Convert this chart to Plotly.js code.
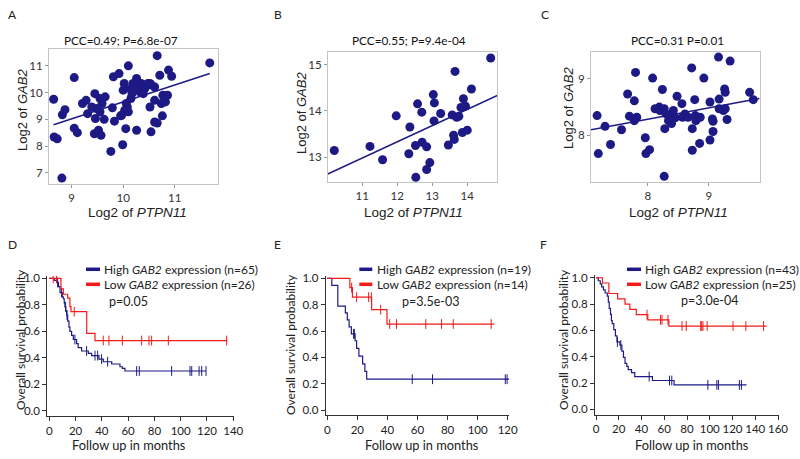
<!DOCTYPE html>
<html>
<head>
<meta charset="utf-8">
<script src="https://cdn.plot.ly/plotly-3.0.1.min.js"></script>
<style>
  body { margin: 0; background: #fff; }
  #plot { width: 800px; height: 459px; }
</style>
</head>
<body>
<div id="plot"></div>
<script>
// --- correlation panels: log2 PTPN11 (x) vs log2 GAB2 (y) ---
var aX = [8.65,8.66,8.72,8.81,8.82,8.87,9.05,9.05,9.11,9.21,9.28,9.31,9.45,9.46,9.44,9.52,9.55,9.57,9.55,9.63,
          9.65,9.39,9.48,9.59,9.76,9.79,9.83,9.81,9.92,9.95,9.99,10.05,10.1,10.02,10.03,10.06,10.08,10.1,10.15,10.17,
          10.23,10.26,10.19,10.29,10.32,10.35,10.42,10.48,10.55,10.26,10.52,10.54,10.61,10.66,10.66,10.71,10.61,10.74,10.77,10.82,
          10.76,10.88,10.94,10.86,11.68,10.0,10.15,10.39,10.03,9.97,10.52,10.61];
var aY = [9.75,8.34,8.27,6.8,9.17,9.36,10.56,8.67,8.5,9.59,9.71,9.21,9.96,9.03,8.46,8.59,9.28,8.4,9.78,9.0,
          9.84,9.46,9.4,9.59,7.8,9.43,8.93,10.59,10.71,9.13,8.05,8.65,11.0,10.34,10.15,9.59,9.46,9.28,9.78,9.96,
          10.15,10.53,10.34,10.21,10.03,10.34,10.15,10.34,10.28,8.59,9.46,8.53,8.9,8.86,11.38,10.65,9.71,9.59,9.9,9.65,
          9.13,10.84,10.61,9.9,11.11,10.09,10.15,9.96,9.34,9.15,10.34,10.21];
var aFitX = [8.65, 11.68];
var aFitY = [8.8, 10.71];

var bX = [10.2,11.22,11.58,11.97,12.36,12.33,12.52,12.53,12.58,12.7,12.71,12.84,12.84,12.93,13.03,13.06,
          13.05,13.24,13.46,13.57,13.61,13.63,13.65,13.7,13.82,13.86,13.89,13.95,14.0,14.12,14.67,13.76];
var bY = [13.14,13.23,12.94,13.89,13.65,13.07,13.25,12.56,14.15,13.97,13.32,13.22,12.73,12.88,14.35,14.17,
          13.78,13.94,13.26,13.91,13.47,13.38,14.85,13.86,14.07,13.53,14.26,14.1,13.58,14.47,15.14,13.88];
var bFitX = [10.01, 14.86];
var bFitY = [12.63, 14.33];

var cX = [7.17,7.19,7.3,7.39,7.57,7.67,7.7,7.78,7.8,7.82,7.78,7.96,7.97,8.03,8.08,8.19,8.24,8.2,8.27,8.28,
          8.27,8.3,8.34,8.42,8.48,8.45,8.56,8.57,8.61,8.72,8.73,8.73,8.77,8.78,8.79,8.85,8.86,8.92,9.02,9.02,
          9.06,9.07,9.07,9.16,9.17,9.17,9.26,9.27,9.27,9.3,9.35,9.67,9.73,8.12,8.37,8.66,9.24,8.39];
var cY = [8.35,7.68,8.16,7.84,8.1,8.73,8.34,8.61,9.11,8.32,8.26,7.96,7.68,7.75,9.01,8.5,8.81,8.44,8.47,8.12,
          7.28,8.38,8.26,8.44,8.69,8.31,8.56,8.32,8.38,9.19,8.12,7.74,8.63,8.35,8.26,7.86,8.32,9.01,8.59,7.92,
          8.29,8.07,8.25,9.38,8.64,8.47,8.82,8.76,8.47,8.28,9.31,8.76,8.63,8.47,8.35,8.32,8.44,8.21];
var cFitX = [7.07, 9.83];
var cFitY = [8.1, 8.65];

// --- Kaplan-Meier panels: step times (months), survival, last follow-up, censor times ---
var dHighT = [0,3.8,5.6,7,8.2,9.9,10.7,11.4,11.9,12.6,13.2,14,15,15.7,17,18.3,20.8,22,24.6,29.7,32.2,37.8,41.1,47.5,53.8,55.6,57.6];
var dHighS = [1,0.985,0.969,0.938,0.892,0.861,0.846,0.815,0.785,0.754,0.723,0.677,0.631,0.6,0.569,0.538,0.507,0.477,0.451,0.433,0.416,0.39,0.37,0.353,0.332,0.32,0.3];
var dHighEnd = 119.3;
var dHighCens = [6.3,9.4,12.4,13.5,19.5,28.4,34.8,36.8,39.8,44.4,66.5,68.5,93.1,107.1,108.4,114,116,119.3];
var dLowT = [0,8.9,10.7,14,15.7,16.5,28.5,34.8];
var dLowS = [1,0.92,0.88,0.85,0.786,0.748,0.584,0.53];
var dLowEnd = 135;
var dLowCens = [3,5.6,19,41.1,45.4,55.6,70.3,75.9,77.9,90.6,135];

var eHighT = [0,3,7,12,13.3,14.5,16,18.5,19.5,21,23.5,25,26.2];
var eHighS = [1,0.947,0.789,0.737,0.684,0.632,0.579,0.526,0.468,0.41,0.351,0.293,0.234];
var eHighEnd = 122;
var eHighCens = [17.5,18,56.5,70,118.4,119.6];
var eLowT = [0,15,16.7,29.5,39.7];
var eLowS = [1,0.929,0.857,0.762,0.653];
var eLowEnd = 111;
var eLowCens = [16.2,19.5,27.5,29.3,35.5,41.5,46,65.5,76,83.8,109];

var fHighT = [0,2,3.7,5,6.5,8,9.9,10.8,11.6,12.7,13.5,14.2,15.6,17,18.4,21,22.7,24.1,25.5,27,28.3,31.2,34,49.6,68.6];
var fHighS = [1,0.977,0.953,0.93,0.907,0.884,0.86,0.814,0.767,0.721,0.674,0.651,0.605,0.558,0.512,0.488,0.442,0.395,0.349,0.326,0.302,0.279,0.249,0.219,0.186];
var fHighEnd = 132.3;
var fHighCens = [18.8,21.8,46.7,64.6,66.6,98.3,106.2,107.6,126,127.8];
var fLowT = [0,5.7,11.3,19,25.5,29.7,35.4,45.5,64];
var fLowS = [1,0.96,0.88,0.84,0.8,0.76,0.72,0.68,0.633];
var fLowEnd = 150;
var fLowCens = [44.8,56.7,58,63.2,75.6,79.3,92,92.9,94,97.7,120.4,131.7,147.3];

var highLabels = ['High <i>GAB2</i> expression (n=65)', 'High <i>GAB2</i> expression (n=19)', 'High <i>GAB2</i> expression (n=43)'];
var lowLabels = ['Low <i>GAB2</i> expression (n=26)', 'Low <i>GAB2</i> expression (n=14)', 'Low <i>GAB2</i> expression (n=25)'];
var pLabels = ['p=0.05', 'p=3.5e-03', 'p=3.0e-04'];
var pccLabels = ['PCC=0.49; P=6.8e-07', 'PCC=0.55; P=9.4e-04', 'PCC=0.31 P=0.01'];
var panelLetters = ['A', 'B', 'C', 'D', 'E', 'F'];

var ink = '#1d1a86';
var red = '#f21a1a';
var myriad = 'Lato, "Open Sans", sans-serif';
var arial = '"Liberation Sans", Arial, sans-serif';

function px(x) { return x / 800; }
function py(y) { return 1 - y / 459; }

function survAt(t, times, surv) {
  var s = surv[0];
  for (var i = 0; i < times.length; i++) if (times[i] <= t) s = surv[i];
  return s;
}

function scatterTraces(xs, ys, fx, fy, n) {
  return [
    {x: xs, y: ys, mode: 'markers', type: 'scatter', xaxis: 'x' + n, yaxis: 'y' + n,
     marker: {size: 9, color: ink}, cliponaxis: false, hoverinfo: 'x+y'},
    {x: fx, y: fy, mode: 'lines', type: 'scatter', xaxis: 'x' + n, yaxis: 'y' + n,
     line: {color: ink, width: 1.6}, hoverinfo: 'skip'}
  ];
}

function kmTraces(times, surv, end, cens, color, n) {
  return [
    {x: times.concat([end]), y: surv.concat([surv[surv.length - 1]]), mode: 'lines', type: 'scatter',
     xaxis: 'x' + n, yaxis: 'y' + n, line: {shape: 'hv', color: color, width: 1.2}, hoverinfo: 'skip'},
    {x: cens, y: cens.map(function (t) { return survAt(t, times, surv); }), mode: 'markers', type: 'scatter',
     xaxis: 'x' + n, yaxis: 'y' + n, marker: {symbol: 'line-ns', size: 7, color: color, line: {color: color, width: 1}},
     hoverinfo: 'x+y'}
  ];
}

var data = []
  .concat(scatterTraces(aX, aY, aFitX, aFitY, ''))
  .concat(scatterTraces(bX, bY, bFitX, bFitY, 2))
  .concat(scatterTraces(cX, cY, cFitX, cFitY, 3))
  .concat(kmTraces(dHighT, dHighS, dHighEnd, dHighCens, ink, 4))
  .concat(kmTraces(dLowT, dLowS, dLowEnd, dLowCens, red, 4))
  .concat(kmTraces(eHighT, eHighS, eHighEnd, eHighCens, ink, 5))
  .concat(kmTraces(eLowT, eLowS, eLowEnd, eLowCens, red, 5))
  .concat(kmTraces(fHighT, fHighS, fHighEnd, fHighCens, ink, 6))
  .concat(kmTraces(fLowT, fLowS, fLowEnd, fLowCens, red, 6));

function scatterAxis(left, right, range, anchor) {
  return {domain: [px(left), px(right)], range: range, anchor: anchor, dtick: 1,
    showline: true, mirror: true, linecolor: '#c4c4c4', linewidth: 1,
    ticks: 'outside', ticklen: 3, tickcolor: '#999', showgrid: false, zeroline: false,
    tickfont: {family: myriad, size: 11.5, color: '#333'}};
}
function scatterYAxis(top, bottom, range, anchor) {
  var ax = scatterAxis(0, 1, range, anchor);
  ax.domain = [py(bottom), py(top)];
  return ax;
}
function kmXAxis(left, right, range, dtick, anchor) {
  return {domain: [px(left), px(right)], range: range, anchor: anchor, dtick: dtick, tick0: 0,
    showline: true, linecolor: '#333', linewidth: 1, ticks: 'outside', ticklen: 4, tickcolor: '#333',
    showgrid: false, zeroline: false, tickfont: {family: myriad, size: 11.5, color: '#222'}};
}
function kmYAxis(top, bottom, anchor) {
  return {domain: [py(bottom), py(top)], range: [-0.04, 1.02], anchor: anchor, dtick: 0.2, tick0: 0,
    tickformat: '.1f', showline: true, linecolor: '#333', linewidth: 1, ticks: 'outside', ticklen: 4,
    tickcolor: '#333', showgrid: false, zeroline: false, tickfont: {family: myriad, size: 11.5, color: '#222'}};
}

var layout = {
  width: 800, height: 459, showlegend: false,
  margin: {l: 0, r: 0, t: 0, b: 0},
  paper_bgcolor: '#fff', plot_bgcolor: '#fff',
  xaxis: scatterAxis(49, 218, [8.56, 11.84], 'y'),
  yaxis: scatterYAxis(49, 184, [6.58, 11.63], 'x'),
  xaxis2: scatterAxis(328, 497, [10.02, 14.85], 'y2'),
  yaxis2: scatterYAxis(52, 182, [12.46, 15.27], 'x2'),
  xaxis3: scatterAxis(591, 760, [7.07, 9.84], 'y3'),
  yaxis3: scatterYAxis(52, 182, [7.18, 9.47], 'x3'),
  xaxis4: kmXAxis(47.3, 233.9, [-1.5, 140.5], 20, 'y4'),
  yaxis4: kmYAxis(275.7, 416, 'x4'),
  xaxis5: kmXAxis(325.8, 509.2, [-1, 121], 20, 'y5'),
  yaxis5: kmYAxis(275.7, 415.3, 'x5'),
  xaxis6: kmXAxis(594.9, 778.6, [-1, 160.5], 20, 'y6'),
  yaxis6: kmYAxis(275.1, 414.6, 'x6'),
  annotations: [],
  shapes: []
};

function note(text, x, y, opts) {
  var a = {text: text, x: px(x), y: py(y), xref: 'paper', yref: 'paper', showarrow: false,
    xanchor: 'center', yanchor: 'middle', font: {family: myriad, size: 12, color: '#111'}};
  for (var k in opts) a[k] = opts[k];
  layout.annotations.push(a);
}

// panel letters
var letterPos = [[12, 15], [278, 15], [545, 15], [12, 244], [277, 244], [543, 244]];
panelLetters.forEach(function (l, i) {
  note(l, letterPos[i][0], letterPos[i][1], {font: {family: myriad, size: 12, color: '#222'}});
});

// scatter titles and axis titles
var scatterCenters = [[121, 137, 22, 110], [409, 413, 302, 113], [677, 678, 568, 108]];
scatterCenters.forEach(function (c, i) {
  note(pccLabels[i], c[0], 40, {font: {family: myriad, size: 11.8, color: '#111'}});
  note('Log2 of <i>PTPN11</i>', c[1], 212, {font: {family: arial, size: 13.5, color: '#222'}});
  note('Log2 of <i>GAB2</i>', c[2], c[3], {textangle: -90, font: {family: arial, size: 13, color: '#222'}});
});

// survival axis titles, legends and p values
var kmPos = [
  {ytx: 20, yty: 340, xtx: 129, sw: [86, 100], tx: 101.7, p: [107, 301.7]},
  {ytx: 290, yty: 345, xtx: 421.7, sw: [359.3, 372.3], tx: 375, p: [400, 301]},
  {ytx: 563, yty: 340, xtx: 691.7, sw: [627, 641], tx: 643, p: [679, 300]}
];
kmPos.forEach(function (k, i) {
  note('Overall survival probability', k.ytx, k.yty, {textangle: -90, font: {family: myriad, size: 12, color: '#222'}});
  note('Follow up in months', k.xtx, 445, {font: {family: myriad, size: 12.8, color: '#222'}});
  note(highLabels[i], k.tx, 269.3, {xanchor: 'left', font: {family: myriad, size: 12, color: '#222'}});
  note(lowLabels[i], k.tx, 284.3, {xanchor: 'left', font: {family: myriad, size: 12, color: '#222'}});
  note(pLabels[i], k.p[0], k.p[1], {xanchor: 'left', font: {family: myriad, size: 12.5, color: '#222'}});
  layout.shapes.push({type: 'line', xref: 'paper', yref: 'paper', x0: px(k.sw[0]), x1: px(k.sw[1]),
    y0: py(269.3), y1: py(269.3), line: {color: ink, width: 3.5}});
  layout.shapes.push({type: 'line', xref: 'paper', yref: 'paper', x0: px(k.sw[0]), x1: px(k.sw[1]),
    y0: py(284.3), y1: py(284.3), line: {color: red, width: 3.5}});
});

Plotly.newPlot('plot', data, layout, {staticPlot: true});
</script>
</body>
</html>
